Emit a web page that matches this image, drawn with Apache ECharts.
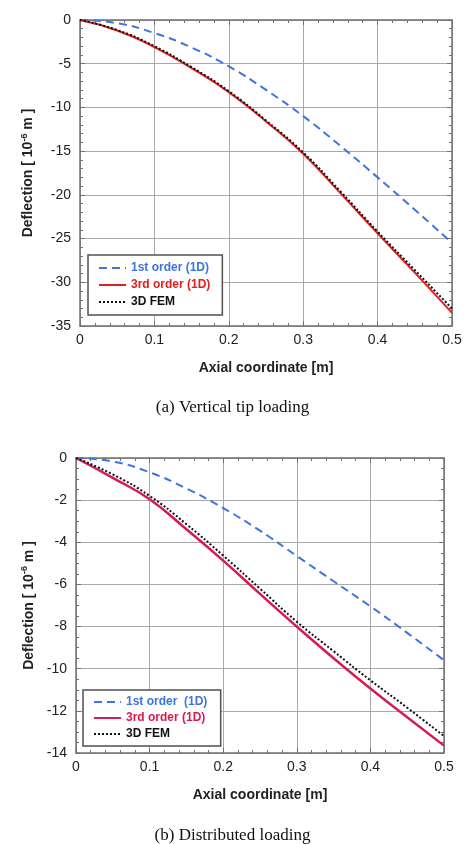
<!DOCTYPE html>
<html><head><meta charset="utf-8">
<script src="https://cdn.jsdelivr.net/npm/echarts@6/dist/echarts.min.js"></script>
<style>html,body{margin:0;padding:0;background:#fff}#c{width:465px;height:844px}</style>
</head><body><div id="c"></div>
<script>
// ---- data ----
const axialCoord = [0, 0.05, 0.1, 0.15, 0.2, 0.25, 0.3, 0.35, 0.4, 0.45, 0.5];
// (a) Vertical tip loading
const tipFirstOrder = [0, -0.37, -1.5, -3.15, -5.3, -8.0, -11.0, -14.4, -18.0, -21.7, -25.5];
const tipThirdOrder = [0, -1.2, -3.1, -5.5, -8.25, -11.6, -15.3, -19.8, -24.4, -28.9, -33.5];
const tipFEM        = [0, -1.15, -3.0, -5.4, -8.15, -11.5, -15.15, -19.6, -24.2, -28.6, -33.0];
// (b) Distributed loading
const distFirstOrder = [0, -0.17, -0.68, -1.45, -2.38, -3.45, -4.65, -5.85, -7.04, -8.3, -9.6];
const distThirdOrder = [0, -0.94, -1.96, -3.38, -4.87, -6.45, -8.0, -9.5, -10.94, -12.3, -13.65];
const distFEM        = [0, -0.78, -1.8, -3.14, -4.63, -6.2, -7.77, -9.17, -10.55, -11.85, -13.2];
const xTicks = [0, 0.1, 0.2, 0.3, 0.4, 0.5];
const yTicksA = [0, -5, -10, -15, -20, -25, -30, -35];
const yTicksB = [0, -2, -4, -6, -8, -10, -12, -14];
const captionA = '(a) Vertical tip loading';
const captionB = '(b) Distributed loading';
const namesA = ['1st order (1D)', '3rd order (1D)', '3D FEM'];
const namesB = ['1st order  (1D)', '3rd order (1D) ', '3D FEM '];

const pairs = (ys) => axialCoord.map((x, i) => [x, ys[i]]);
const FONT = '"Liberation Sans", Arial, sans-serif';
const BLUE = '#3d74e0', REDA = '#e0201c', REDB = '#d81a52';

function xAx(grid, pos, show) {
  return {
    type: 'value', gridIndex: grid, position: pos, min: xTicks[0], max: xTicks[xTicks.length-1], interval: 0.1,
    name: show ? 'Axial coordinate [m]' : '', nameLocation: 'middle', nameGap: 35,
    nameTextStyle: {fontFamily: FONT, fontWeight: 'bold', fontSize: 14, color: '#222'},
    axisLine: {show: true, onZero: false, lineStyle: {color: '#707070', width: 1.5}},
    axisTick: {show: true, inside: true, length: 5, lineStyle: {color: '#707070'}},
    minorTick: {show: true, splitNumber: 5, length: 3, lineStyle: {color: '#707070'}},
    axisLabel: {show: show, fontFamily: FONT, fontSize: 14, color: '#222', margin: 7},
    splitLine: {show: show, lineStyle: {color: '#a8a8a8', width: 1}}
  };
}
function yAx(grid, pos, show, ticks, interval, minorSplit, gap) {
  return {
    type: 'value', gridIndex: grid, position: pos, min: ticks[ticks.length-1], max: ticks[0], interval: interval,
    name: show ? '{a|Deflection [ 10}{s|-6}{a| m ]}' : '', nameLocation: 'middle', nameGap: gap, nameRotate: 90,
    nameTextStyle: {rich: {
      a: {fontFamily: FONT, fontWeight: 'bold', fontSize: 14, color: '#222'},
      s: {fontFamily: FONT, fontWeight: 'bold', fontSize: 9, color: '#222', verticalAlign: 'top', padding: [0,0,8,0]}
    }},
    axisLine: {show: true, onZero: false, lineStyle: {color: '#707070', width: 1.5}},
    axisTick: {show: true, inside: true, length: 5, lineStyle: {color: '#707070'}},
    minorTick: {show: true, splitNumber: minorSplit, length: 3, lineStyle: {color: '#707070'}},
    axisLabel: {show: show, fontFamily: FONT, fontSize: 14, color: '#222', margin: 9},
    splitLine: {show: show, lineStyle: {color: '#a8a8a8', width: 1}}
  };
}
function ser(name, data, xi, yi, color, type, width, z) {
  return {
    name: name, type: 'line', xAxisIndex: xi, yAxisIndex: yi, data: pairs(data), smooth: true,
    showSymbol: false, symbol: 'none', z: z,
    lineStyle: {color: color, type: type, width: width}, itemStyle: {color: color}
  };
}
function legend(names, colors, left, top, gap, padV) {
  return {
    orient: 'vertical', left: left, top: top, itemWidth: 27, itemHeight: 14, itemGap: gap,
    backgroundColor: '#fff', borderColor: '#505050', borderWidth: 1.5, borderRadius: 0,
    padding: [padV, 12, padV, 10], selectedMode: false,
    itemStyle: {color: 'rgba(0,0,0,0)', borderColor: 'rgba(0,0,0,0)', borderWidth: 0},
    data: names.map((n, i) => ({name: n, textStyle: {color: colors[i]}})),
    textStyle: {fontFamily: FONT, fontWeight: 'bold', fontSize: 12}
  };
}

const chart = echarts.init(document.getElementById('c'), null, {renderer: 'canvas'});
chart.setOption({
  animation: false,
  backgroundColor: '#fff',
  grid: [
    {left: 80, top: 20, width: 372, height: 306},
    {left: 76, top: 458, width: 368, height: 295}
  ],
  xAxis: [xAx(0, 'bottom', true), xAx(0, 'top', false), xAx(1, 'bottom', true), xAx(1, 'top', false)],
  yAxis: [
    yAx(0, 'left', true, yTicksA, 5, 5, 43), yAx(0, 'right', false, yTicksA, 5, 5, 0),
    yAx(1, 'left', true, yTicksB, 2, 4, 31), yAx(1, 'right', false, yTicksB, 2, 4, 0)
  ],
  legend: [
    legend(namesA, [BLUE, REDA, '#111'], 88, 255, 5, 7),
    legend(namesB, [BLUE, REDB, '#111'], 83, 690, 4, 6)
  ],
  title: [
    {text: captionA, left: 'center', top: 394, textStyle: {fontFamily: '"Liberation Serif", "Times New Roman", serif', fontWeight: 'normal', fontSize: 17, color: '#111'}},
    {text: captionB, left: 'center', top: 822, textStyle: {fontFamily: '"Liberation Serif", "Times New Roman", serif', fontWeight: 'normal', fontSize: 17, color: '#111'}}
  ],
  series: [
    ser(namesA[0], tipFirstOrder, 0, 0, BLUE, [8, 5], 2, 3),
    ser(namesA[1], tipThirdOrder, 0, 0, REDA, 'solid', 2, 4),
    ser(namesA[2], tipFEM, 0, 0, '#111', [2, 2], 2, 5),
    ser(namesB[0], distFirstOrder, 2, 2, BLUE, [8, 5], 2, 3),
    ser(namesB[1], distThirdOrder, 2, 2, REDB, 'solid', 2.5, 4),
    ser(namesB[2], distFEM, 2, 2, '#111', [2, 2], 2, 5)
  ]
});
</script></body></html>
